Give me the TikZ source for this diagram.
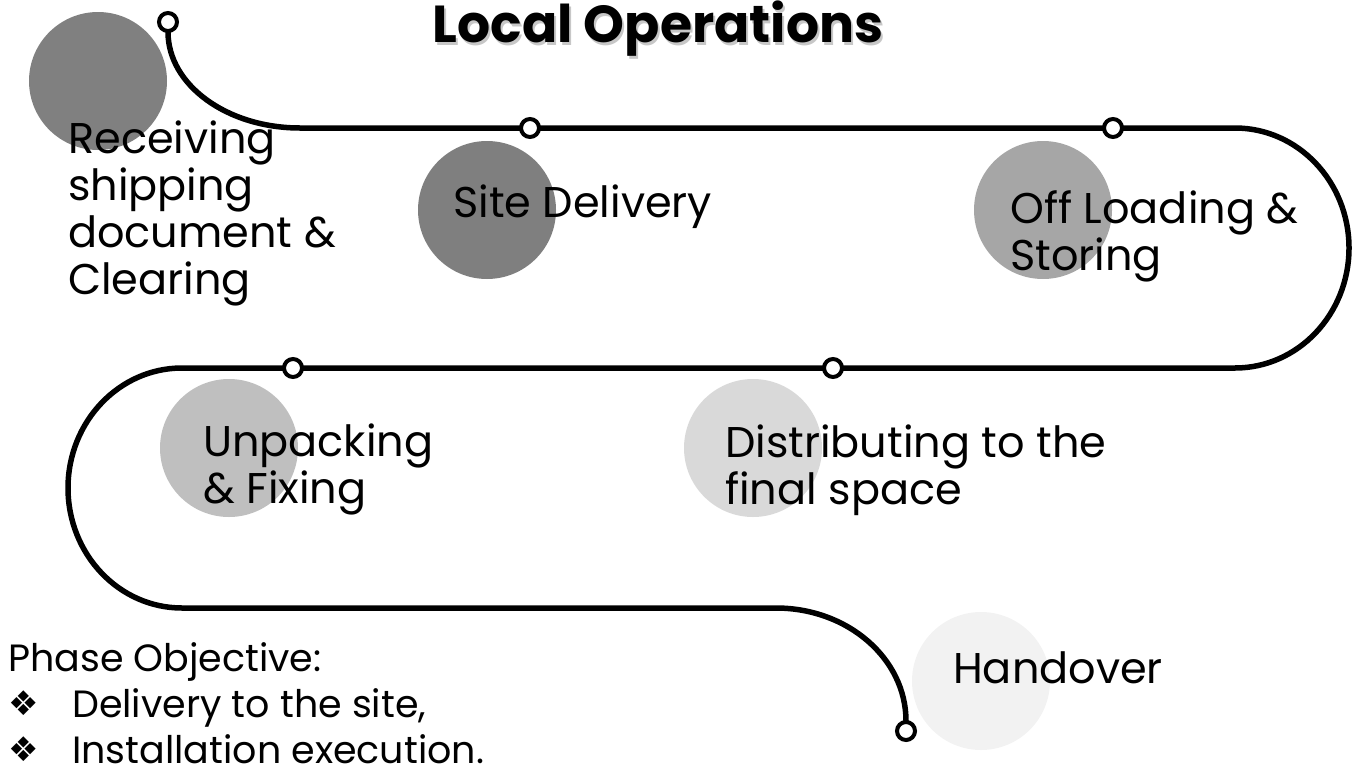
\documentclass[tikz,border=0pt]{standalone}
\usepackage{fontspec}
\setmainfont{Poppins}
\newfontfamily\symfont{DejaVu Sans}
\usepackage{xcolor}
\usepackage{tikz}
\usetikzlibrary{positioning}
\definecolor{recvgray}{RGB}{128, 128, 128}
\definecolor{sitegray}{RGB}{127, 127, 127}
\definecolor{offgray}{RGB}{166, 166, 166}
\definecolor{unpackgray}{RGB}{191, 191, 191}
\definecolor{distgray}{RGB}{217, 217, 217}
\definecolor{handgray}{RGB}{242, 242, 242}

\begin{document}
\begin{tikzpicture}[
    x=1pt, y=-1pt,
    stage/.style={circle, minimum size=138pt, inner sep=0pt},
    stagetext/.style={anchor=base west, align=left, inner sep=0pt, font=\fontsize{43}{47}\selectfont},
    ring/.style={circle, draw, line width=4pt, fill=white, minimum size=18pt, inner sep=0pt},
    track/.style={line width=5.5pt},
    objtext/.style={anchor=base west, inner sep=0pt, font=\fontsize{38}{46}\selectfont},
    bullet/.style={anchor=base west, inner sep=0pt, font=\fontsize{34}{40}\symfont}
]
    \useasboundingbox (0,0) rectangle (1354,774);

    % stage discs
    \node[stage, fill=recvgray] (recv) at (98,81) {};
    \node[stage, fill=sitegray] (site) at (487,210) {};
    \node[stage, fill=offgray] (off) at (1043,210) {};
    \node[stage, fill=unpackgray] (unpack) at (229,448) {};
    \node[stage, fill=distgray] (dist) at (753,448) {};
    \node[stage, fill=handgray] (hand) at (981,681) {};

    % rings along the track
    \coordinate (r0) at (168,22);
    \coordinate (r1) at (530,128);
    \coordinate (r2) at (1113,128);
    \coordinate (r3) at (293,368);
    \coordinate (r4) at (833,368);
    \coordinate (r5) at (906,731);

    \draw[track] (168,32) arc[start angle=180, end angle=90, x radius=132, y radius=96]
        -- (1235,128) arc[start angle=-90, end angle=90, x radius=114, y radius=120]
        -- (182,368) arc[start angle=270, end angle=90, x radius=114, y radius=120]
        -- (776,608) arc[start angle=270, end angle=360, x radius=130, y radius=113];

    \foreach \r in {r0, r1, r2, r3, r4, r5}
        \node[ring] at (\r) {};

    % labels (base = last line)
    \node[stagetext] (recvtxt) at (68,294) {Receiving\\shipping\\document \&\\Clearing};
    \node[stagetext] (sitetxt) at (453,217) {Site Delivery};
    \node[stagetext] (offtxt) at (1010,270) {Off Loading \&\\Storing};
    \node[stagetext] (unpacktxt) at (203,503) {Unpacking\\\& Fixing};
    \node[stagetext] (disttxt) at (725,504) {Distributing to the\\final space};
    \node[stagetext] (handtxt) at (953,683) {Handover};

    % title with shadow
    \node[anchor=base, inner sep=0pt, font=\fontsize{52}{60}\bfseries, text=black!22] (titleshadow) at (660,45) {Local Operations};
    \node[anchor=base, inner sep=0pt, font=\fontsize{52}{60}\bfseries] (title) at (658,42) {Local Operations};

    % phase objective
    \node[objtext] (phase) at (8,671) {Phase Objective:};
    \node[bullet] (bul1) at (8,715) {❖};
    \node[objtext] (obj1) at (72,717) {Delivery to the site,};
    \node[bullet] (bul2) at (8,761) {❖};
    \node[objtext] (obj2) at (72,763) {Installation execution.};
\end{tikzpicture}
\end{document}
